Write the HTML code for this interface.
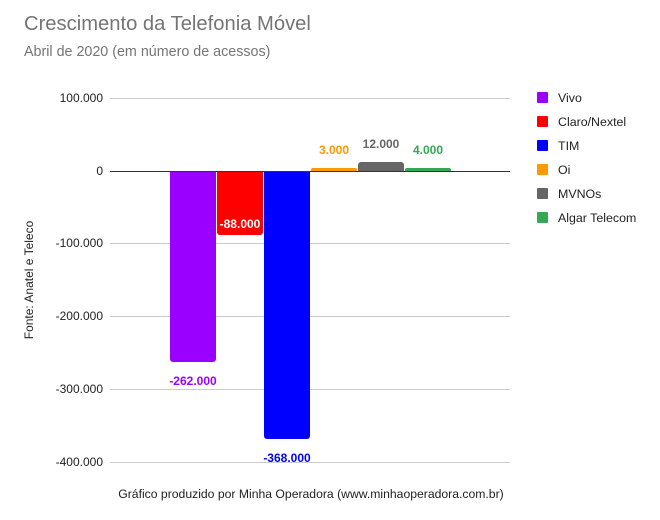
<!DOCTYPE html>
<html><head><meta charset="utf-8"><style>
html,body{margin:0;padding:0;background:#fff;}
svg{display:block;font-family:"Liberation Sans",Arial,sans-serif;}
</style></head><body>
<svg width="660" height="520" viewBox="0 0 660 520" xmlns="http://www.w3.org/2000/svg">
<rect width="660" height="520" fill="#fff"/>
<text x="24" y="30" font-size="20.2" fill="#757575">Crescimento da Telefonia Móvel</text>
<text x="24" y="56" font-size="14.3" fill="#757575">Abril de 2020 (em número de acessos)</text>
<g stroke="#cccccc" stroke-width="1">
<line x1="110" y1="98.5" x2="510" y2="98.5"/>
<line x1="110" y1="243.5" x2="510" y2="243.5"/>
<line x1="110" y1="316.5" x2="510" y2="316.5"/>
<line x1="110" y1="389.5" x2="510" y2="389.5"/>
<line x1="110" y1="462.5" x2="510" y2="462.5"/>
</g>
<g font-size="12" fill="#222" text-anchor="end">
<text x="103" y="102">100.000</text>
<text x="103" y="175">0</text>
<text x="103" y="247">-100.000</text>
<text x="103" y="320">-200.000</text>
<text x="103" y="393">-300.000</text>
<text x="103" y="466">-400.000</text>
</g>
<text transform="translate(33,280) rotate(-90)" font-size="12" fill="#222" text-anchor="middle">Fonte: Anatel e Teleco</text>
<path d="M170 171 H216 V359 a3 3 0 0 1 -3 3 H173 a3 3 0 0 1 -3 -3 Z" fill="#9900ff"/>
<path d="M217 171 H263 V232 a3 3 0 0 1 -3 3 H220 a3 3 0 0 1 -3 -3 Z" fill="#ff0000"/>
<path d="M264 171 H310 V436 a3 3 0 0 1 -3 3 H267 a3 3 0 0 1 -3 -3 Z" fill="#0000ff"/>
<path d="M311 171 V170 a2 2 0 0 1 2 -2 H355 a2 2 0 0 1 2 2 V171 Z" fill="#ff9900"/>
<path d="M358 171 V165 a3 3 0 0 1 3 -3 H401 a3 3 0 0 1 3 3 V171 Z" fill="#666666"/>
<path d="M405 171 V170 a2 2 0 0 1 2 -2 H449 a2 2 0 0 1 2 2 V171 Z" fill="#34a853"/>
<line x1="110" y1="171.5" x2="510" y2="171.5" stroke="#333" stroke-width="1"/>
<g font-size="12" font-weight="bold" text-anchor="middle">
<text x="193" y="385" fill="#9900ff">-262.000</text>
<text x="240" y="228" fill="#ffffff">-88.000</text>
<text x="287" y="462" fill="#0000ff">-368.000</text>
<text x="334" y="154" fill="#ff9900">3.000</text>
<text x="381" y="148" fill="#666666">12.000</text>
<text x="428" y="154" fill="#34a853">4.000</text>
</g>
<g font-size="12.4" fill="#222">
<rect x="537" y="92" width="11" height="11" rx="1" fill="#9900ff"/><text x="558" y="102">Vivo</text>
<rect x="537" y="116" width="11" height="11" rx="1" fill="#ff0000"/><text x="558" y="126">Claro/Nextel</text>
<rect x="537" y="140" width="11" height="11" rx="1" fill="#0000ff"/><text x="558" y="150">TIM</text>
<rect x="537" y="164" width="11" height="11" rx="1" fill="#ff9900"/><text x="558" y="174">Oi</text>
<rect x="537" y="188" width="11" height="11" rx="1" fill="#666666"/><text x="558" y="198">MVNOs</text>
<rect x="537" y="212" width="11" height="11" rx="1" fill="#34a853"/><text x="558" y="222">Algar Telecom</text>
</g>
<text x="311" y="498" font-size="12.2" fill="#222" text-anchor="middle">Gráfico produzido por Minha Operadora (www.minhaoperadora.com.br)</text>
</svg>
</body></html>
